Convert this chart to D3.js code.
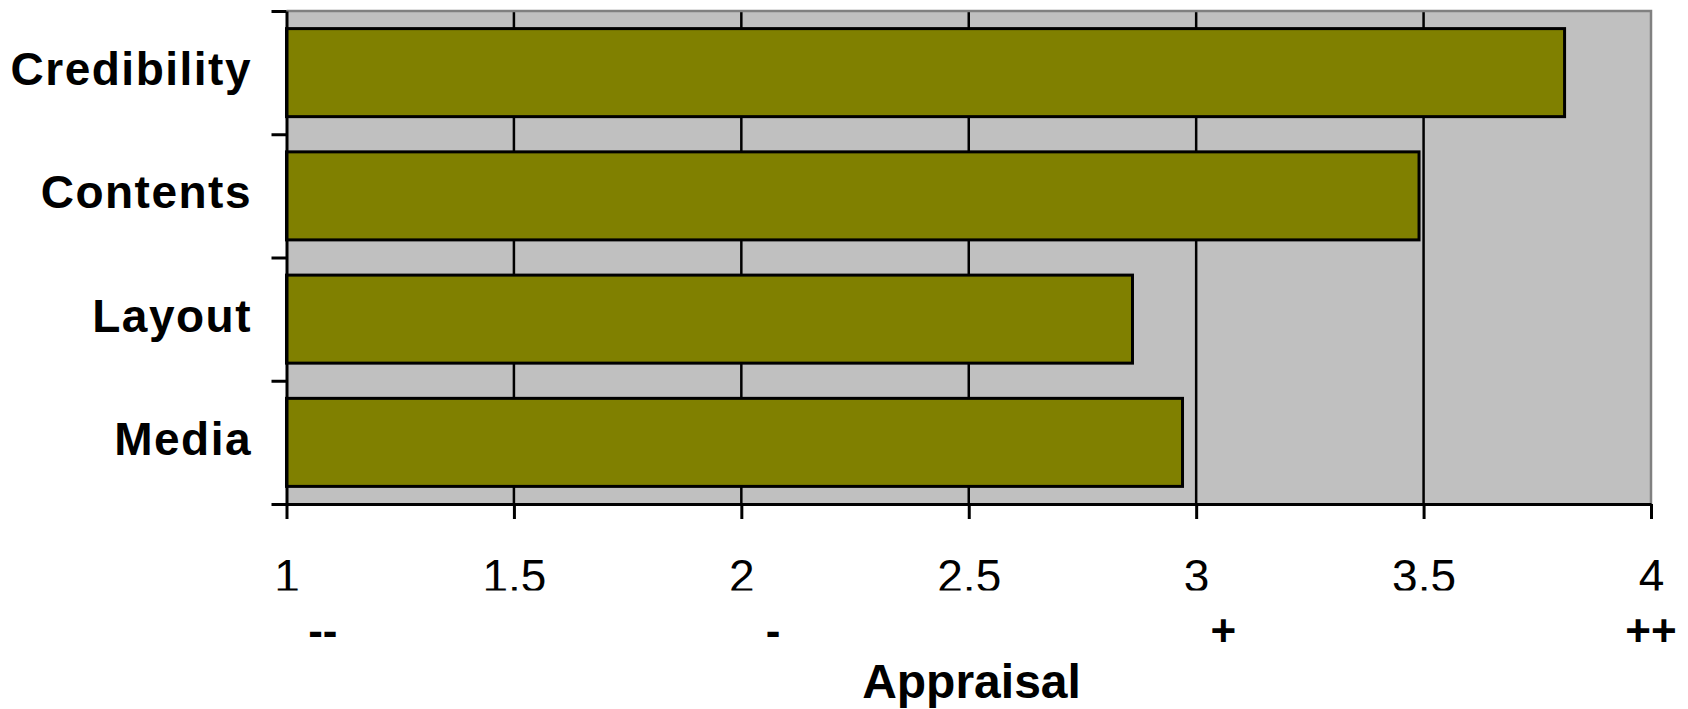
<!DOCTYPE html>
<html><head><meta charset="utf-8">
<script src="https://cdn.jsdelivr.net/npm/d3@7"></script>
<style>
body{margin:0;background:#fff;}
svg{display:block;font-family:"Liberation Sans",Arial,sans-serif;}
</style>
</head><body><svg id="chart" width="1688" height="709"></svg>
<script>
const categories = ["Credibility","Contents","Layout","Media"];
const values = [3.81, 3.49, 2.86, 2.97];
const xTicks = [1,1.5,2,2.5,3,3.5,4];
const xTickLabels = ["1","1.5","2","2.5","3","3.5","4"];
const qualLabels = ["--","-","+","++"];
const qualPositions = [1.08,2.07,3.06,4.0];
const axisTitle = "Appraisal";

const W = 1688, H = 709;
const plot = {left:286.5, right:1651, top:11, bottom:504};
const svg = d3.select("#chart");

const x = d3.scaleLinear().domain([1,4]).range([plot.left, plot.right]);
const y = d3.scaleBand().domain(categories).range([plot.top, plot.bottom])
  .paddingInner(0.2857).paddingOuter(0.14285);
const yb = d3.scaleLinear().domain([0, categories.length]).range([plot.top, plot.bottom]);

// plot background
svg.append("rect")
  .attr("x", plot.left).attr("y", plot.top)
  .attr("width", plot.right - plot.left).attr("height", plot.bottom - plot.top)
  .attr("fill", "#c0c0c0");

// gridlines
svg.append("g").selectAll("line")
  .data(xTicks.filter(d => d > 1 && d < 4))
  .join("line")
  .attr("x1", d => x(d)).attr("x2", d => x(d))
  .attr("y1", plot.top).attr("y2", plot.bottom)
  .attr("stroke", "#000").attr("stroke-width", 2.5);

// top and right border
svg.append("path")
  .attr("d", `M${plot.left},${plot.top}H${plot.right}V${plot.bottom}`)
  .attr("fill", "none").attr("stroke", "#808080").attr("stroke-width", 2.5);

// bars
svg.append("g").selectAll("rect")
  .data(categories)
  .join("rect")
  .attr("x", x(1))
  .attr("y", d => y(d))
  .attr("width", (d,i) => x(values[i]) - x(1))
  .attr("height", y.bandwidth())
  .attr("fill", "#808000")
  .attr("stroke", "#000").attr("stroke-width", 3);

// left axis with boundary ticks
const yAxis = svg.append("g")
  .attr("transform", `translate(${plot.left},0)`)
  .call(d3.axisLeft(yb).tickValues(d3.range(categories.length + 1)).tickSize(15).tickSizeOuter(0).tickFormat(""));
yAxis.selectAll("path,line").attr("stroke", "#000").attr("stroke-width", 3);

// category labels
svg.append("g").selectAll("text")
  .data(categories)
  .join("text")
  .attr("x", 252)
  .attr("y", d => y(d) + y.bandwidth()/2 + 12.5)
  .attr("text-anchor", "end")
  .attr("font-size", 46).attr("font-weight", "bold")
  .attr("letter-spacing", 1.5)
  .attr("fill", "#000")
  .text(d => d);

// bottom axis
svg.append("defs").append("clipPath").attr("id", "tickclip")
  .append("rect").attr("x", 0).attr("y", 520).attr("width", W).attr("height", 70.5);

const xAxis = svg.append("g")
  .attr("transform", `translate(0,${plot.bottom})`)
  .call(d3.axisBottom(x).tickValues(xTicks).tickSize(15).tickSizeOuter(0)
    .tickPadding(40).tickFormat((d,i) => xTickLabels[i]));
xAxis.selectAll("path,line").attr("stroke", "#000").attr("stroke-width", 3);
xAxis.selectAll("text")
  .attr("font-size", 46).attr("font-family", '"Liberation Sans",Arial,sans-serif')
  .attr("text-anchor", "middle")
  .attr("fill", "#000");
// clip tick labels as in the reference
const clipG = svg.append("g").attr("clip-path", "url(#tickclip)");
xAxis.selectAll(".tick text").each(function(){
  const t = this;
  const tr = t.parentNode.getAttribute("transform");
  const g = clipG.append("g").attr("transform", `translate(0,${plot.bottom}) ` + tr);
  g.node().appendChild(t);
});

// qualitative labels
svg.append("g").selectAll("text")
  .data(qualLabels)
  .join("text")
  .attr("x", (d,i) => x(qualPositions[i]))
  .attr("y", 646)
  .attr("text-anchor", "middle")
  .attr("font-size", 44).attr("font-weight", "bold")
  .attr("fill", "#000")
  .text(d => d);

// axis title
svg.append("text")
  .attr("x", 971.5).attr("y", 698)
  .attr("text-anchor", "middle")
  .attr("font-size", 48).attr("font-weight", "bold")
  .attr("fill", "#000")
  .text(axisTitle);
</script>
</body></html>
